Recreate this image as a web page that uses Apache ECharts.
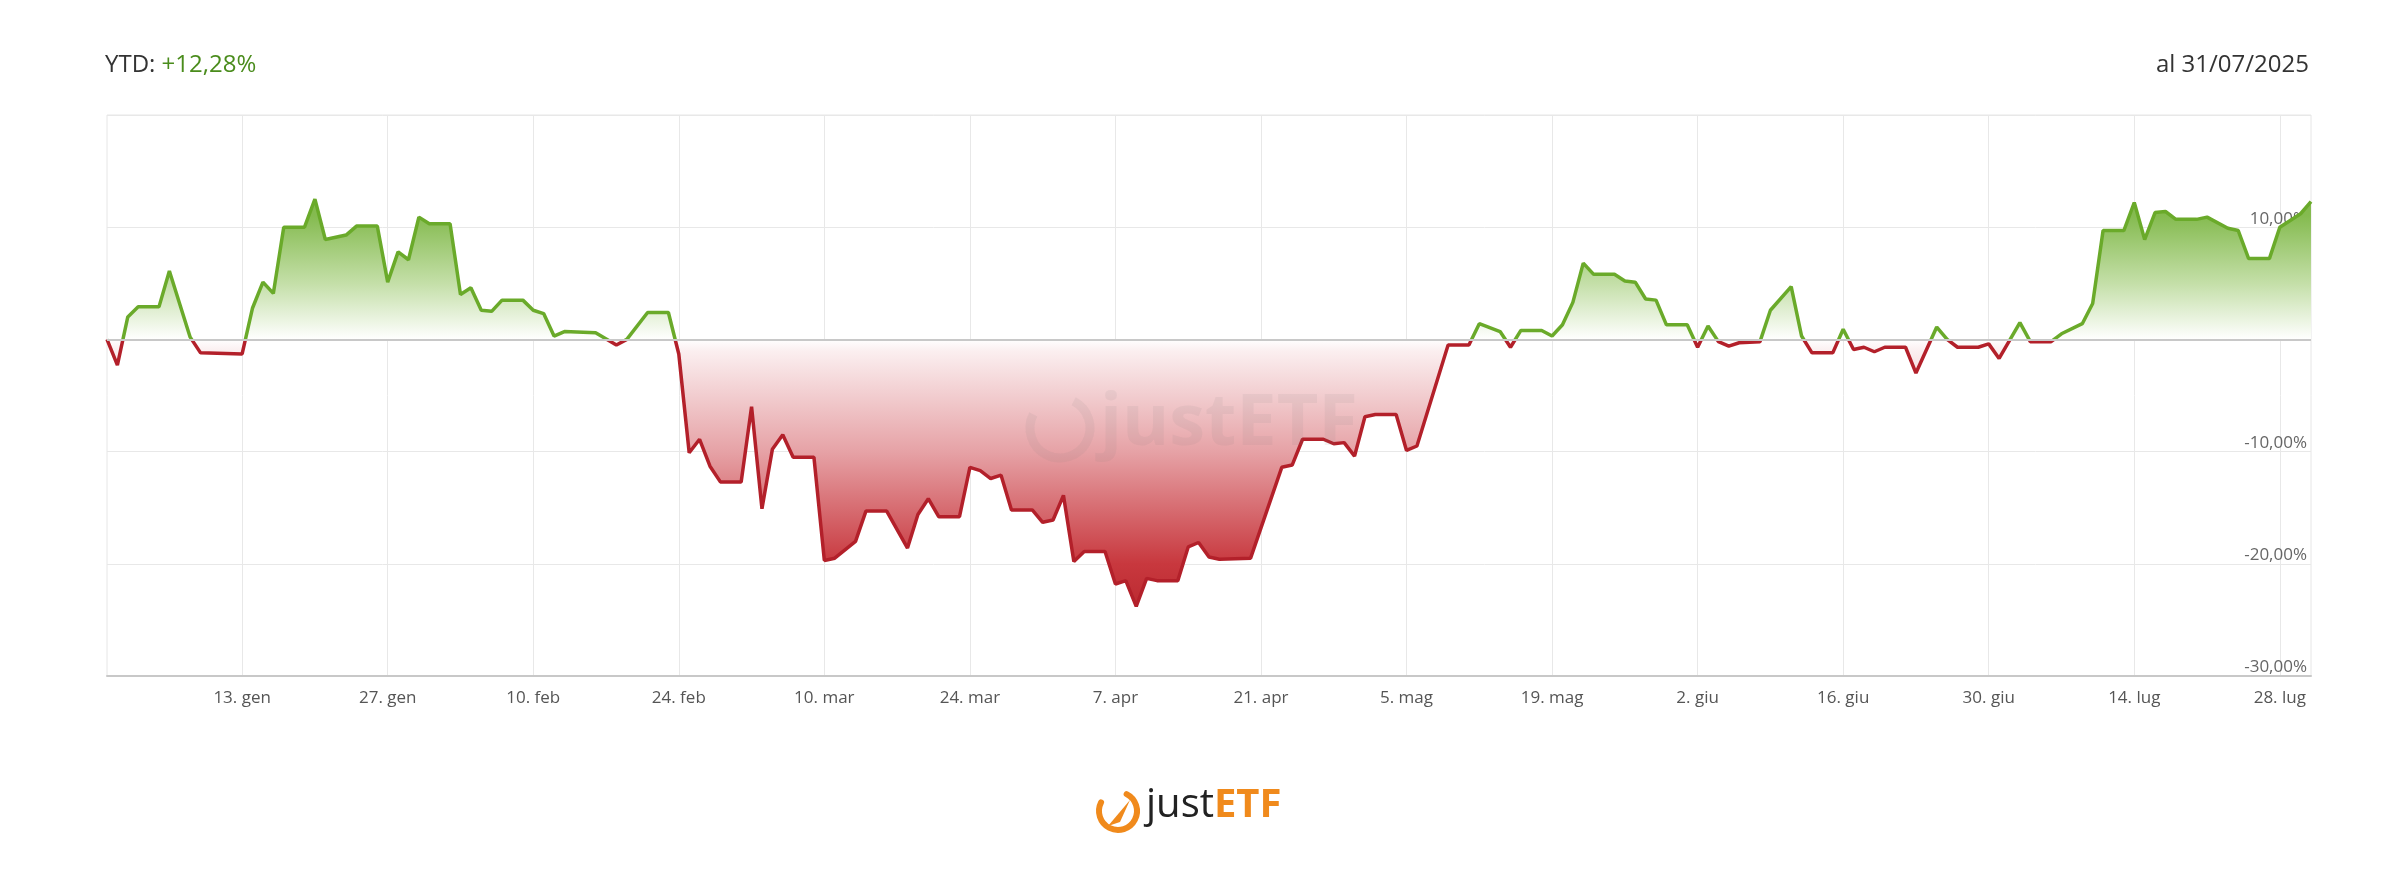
<!DOCTYPE html>
<html>
<head>
<meta charset="utf-8">
<script src="https://cdn.jsdelivr.net/npm/echarts@6/dist/echarts.min.js"></script>
<style>
	html, body { margin: 0; padding: 0; background: #fff; }
	#chart { width: 2400px; height: 875px; }
</style>
</head>
<body>
<div id="chart"></div>
<script>
// performance YTD in %
var dates = [
	'2024-12-31','2025-01-01','2025-01-02','2025-01-03','2025-01-05','2025-01-06','2025-01-08','2025-01-09','2025-01-13','2025-01-14',
	'2025-01-15','2025-01-16','2025-01-17','2025-01-19','2025-01-20','2025-01-21','2025-01-23','2025-01-24','2025-01-26','2025-01-27',
	'2025-01-28','2025-01-29','2025-01-30','2025-01-31','2025-02-02','2025-02-03','2025-02-04','2025-02-05','2025-02-06','2025-02-07',
	'2025-02-09','2025-02-10','2025-02-11','2025-02-12','2025-02-13','2025-02-16','2025-02-18','2025-02-19','2025-02-21','2025-02-23',
	'2025-02-24','2025-02-25','2025-02-26','2025-02-27','2025-02-28','2025-03-02','2025-03-03','2025-03-04','2025-03-05','2025-03-06',
	'2025-03-07','2025-03-09','2025-03-10','2025-03-11','2025-03-13','2025-03-14','2025-03-16','2025-03-18','2025-03-19','2025-03-20',
	'2025-03-21','2025-03-23','2025-03-24','2025-03-25','2025-03-26','2025-03-27','2025-03-28','2025-03-30','2025-03-31','2025-04-01',
	'2025-04-02','2025-04-03','2025-04-04','2025-04-06','2025-04-07','2025-04-08','2025-04-09','2025-04-10','2025-04-11','2025-04-13',
	'2025-04-14','2025-04-15','2025-04-16','2025-04-17','2025-04-20','2025-04-23','2025-04-24','2025-04-25','2025-04-27','2025-04-28',
	'2025-04-29','2025-04-30','2025-05-01','2025-05-02','2025-05-04','2025-05-05','2025-05-06','2025-05-09','2025-05-11','2025-05-12',
	'2025-05-14','2025-05-15','2025-05-16','2025-05-18','2025-05-19','2025-05-20','2025-05-21','2025-05-22','2025-05-23','2025-05-25',
	'2025-05-26','2025-05-27','2025-05-28','2025-05-29','2025-05-30','2025-06-01','2025-06-02','2025-06-03','2025-06-04','2025-06-05',
	'2025-06-06','2025-06-08','2025-06-09','2025-06-11','2025-06-12','2025-06-13','2025-06-15','2025-06-16','2025-06-17','2025-06-18',
	'2025-06-19','2025-06-20','2025-06-22','2025-06-23','2025-06-25','2025-06-26','2025-06-27','2025-06-29','2025-06-30','2025-07-01',
	'2025-07-03','2025-07-04','2025-07-06','2025-07-07','2025-07-09','2025-07-10','2025-07-11','2025-07-13','2025-07-14','2025-07-15',
	'2025-07-16','2025-07-17','2025-07-18','2025-07-20','2025-07-21','2025-07-23','2025-07-24','2025-07-25','2025-07-27','2025-07-28',
	'2025-07-30','2025-07-31'
];
var values = [
	0, -2.3, 2.0, 2.9, 2.9, 6.1, 0.2, -1.2, -1.3, 2.8,
	5.1, 4.1, 10.0, 10.0, 12.5, 8.9, 9.3, 10.1, 10.1, 5.1,
	7.8, 7.1, 10.9, 10.3, 10.3, 4.0, 4.6, 2.6, 2.5, 3.5,
	3.5, 2.6, 2.3, 0.3, 0.7, 0.6, -0.5, 0, 2.4, 2.4,
	-1.3, -10.1, -8.9, -11.3, -12.7, -12.7, -6.0, -15.1, -9.8, -8.5,
	-10.5, -10.5, -19.7, -19.5, -18.0, -15.3, -15.3, -18.6, -15.6, -14.2,
	-15.8, -15.8, -11.4, -11.7, -12.4, -12.1, -15.2, -15.2, -16.3, -16.1,
	-13.9, -19.8, -18.9, -18.9, -21.8, -21.5, -23.8, -21.3, -21.5, -21.5,
	-18.5, -18.1, -19.4, -19.6, -19.5, -11.4, -11.2, -8.9, -8.9, -9.3,
	-9.2, -10.4, -6.9, -6.7, -6.7, -9.9, -9.5, -0.5, -0.5, 1.4,
	0.7, -0.7, 0.8, 0.8, 0.3, 1.3, 3.3, 6.8, 5.8, 5.8,
	5.2, 5.1, 3.6, 3.5, 1.3, 1.3, -0.7, 1.2, -0.2, -0.6,
	-0.3, -0.2, 2.6, 4.7, 0.3, -1.2, -1.2, 0.9, -0.9, -0.7,
	-1.1, -0.7, -0.7, -3.0, 1.1, 0, -0.7, -0.7, -0.4, -1.7,
	1.5, -0.2, -0.2, 0.5, 1.4, 3.2, 9.7, 9.7, 12.2, 8.9,
	11.3, 11.4, 10.7, 10.7, 10.9, 9.9, 9.7, 7.2, 7.2, 10.0,
	11.2, 12.28
];
var tickDates = ['2025-01-13','2025-01-27','2025-02-10','2025-02-24','2025-03-10','2025-03-24','2025-04-07',
	'2025-04-21','2025-05-05','2025-05-19','2025-06-02','2025-06-16','2025-06-30','2025-07-14','2025-07-28'];
var monthNames = ['gen','feb','mar','apr','mag','giu','lug','ago','set','ott','nov','dic'];
var ytdText = '+12,28%';
var asOfText = 'al 31/07/2025';

var GREEN = '#6aaa2a';
var RED = '#b3202a';
var gridTop = 115, gridBottom = 199, gridLeft = 107, gridRight = 89;

function ts(d) { return +new Date(d + 'T00:00:00Z'); }

var seriesData = dates.map(function (d, i) { return [ts(d), values[i]]; });
var tickValues = tickDates.map(ts);

var chart = echarts.init(document.getElementById('chart'));

var option = {
	animation: false,
	backgroundColor: '#fff',
	textStyle: { fontFamily: 'Open Sans, sans-serif' },
	grid: {
		left: gridLeft, right: gridRight, top: gridTop, bottom: gridBottom,
		show: true, borderColor: '#e6e6e6', borderWidth: 1
	},
	title: [
		{
			text: '{a|YTD: }{b|' + ytdText + '}',
			left: 100, top: 48,
			textStyle: {
				rich: {
					a: { fontSize: 24, color: '#333', fontWeight: 'normal', fontFamily: 'Open Sans' },
					b: { fontSize: 24, color: '#4a8c1c', fontWeight: 'normal', fontFamily: 'Open Sans' }
				}
			}
		},
		{
			text: asOfText,
			right: 86, top: 48,
			textStyle: { fontSize: 24, color: '#333', fontWeight: 'normal', fontFamily: 'Open Sans' }
		}
	],
	visualMap: {
		type: 'piecewise',
		show: false,
		seriesIndex: 1,
		dimension: 1,
		pieces: [
			{ gt: 0, lte: 100, color: GREEN },
			{ gte: -100, lte: 0, color: RED }
		]
	},
	xAxis: {
		type: 'value',
		min: ts('2024-12-31'),
		max: ts('2025-07-31'),
		axisLine: { show: true, onZero: false, lineStyle: { color: '#c8c8c8', width: 2 } },
		axisTick: { show: false },
		splitLine: { show: false },
		axisLabel: {
			customValues: tickValues,
			color: '#555',
			fontSize: 17,
			margin: 14,
			formatter: function (v) {
				var d = new Date(v);
				return d.getUTCDate() + '. ' + monthNames[d.getUTCMonth()];
			}
		}
	},
	yAxis: {
		type: 'value',
		position: 'right',
		min: -30, max: 20, interval: 10,
		axisLine: { show: false },
		axisTick: { show: false },
		splitLine: { lineStyle: { color: '#e8e8e8', width: 1 } },
		axisLabel: {
			inside: true,
			margin: 4,
			color: '#666',
			fontSize: 17,
			verticalAlign: 'bottom',
			formatter: function (v) {
				if (v === 20) return '';
				return v.toFixed(2).replace('.', ',') + '%';
			}
		}
	},
	graphic: [
		{
			type: 'arc', silent: true, z: 100,
			shape: { cx: 1060, cy: 428, r: 30, startAngle: -Math.PI * 0.35, endAngle: Math.PI * 1.15 },
			style: { stroke: 'rgba(120,120,120,0.09)', lineWidth: 9, fill: null }
		},
		{
			type: 'text', silent: true, z: 100, x: 1100, y: 388,
			style: { text: 'justETF', fontSize: 72, fontWeight: 'bold', fill: 'rgba(120,120,120,0.09)', fontFamily: 'Open Sans' }
		},
		{
			type: 'arc', silent: true,
			shape: { cx: 1118, cy: 811, r: 19, startAngle: -Math.PI * 0.35, endAngle: Math.PI * 1.15 },
			style: { stroke: '#f08a1c', lineWidth: 6, fill: null, lineCap: 'round' }
		},
		{
			type: 'polygon', silent: true,
			shape: { points: [[1108, 826], [1130, 800], [1120, 822]] },
			style: { fill: '#f08a1c' }
		},
		{
			type: 'text', left: 1146, top: 786, silent: true,
			style: {
				text: '{j|just}{e|ETF}',
				rich: {
					j: { fontSize: 40, fill: '#222', fontFamily: 'Open Sans' },
					e: { fontSize: 40, fill: '#f08a1c', fontWeight: 'bold', fontFamily: 'Open Sans' }
				}
			}
		}
	],
	series: [
		{
			// vertical grid lines under the area
			type: 'line',
			data: [],
			z: 0,
			markLine: {
				z: 0,
				silent: true,
				symbol: 'none',
				label: { show: false },
				lineStyle: { color: '#e8e8e8', width: 1, type: 'solid' },
				data: tickValues.map(function (t) { return { xAxis: t }; })
			}
		},
		{
			type: 'line',
			data: seriesData,
			z: 3,
			showSymbol: false,
			lineStyle: { width: 3.5 },
			areaStyle: {
				origin: 0,
				opacity: 1,
				color: new echarts.graphic.LinearGradient(0, gridTop, 0, 875 - gridBottom, [
					{ offset: 0, color: '#6aa82e' },
					{ offset: 0.18, color: '#85bb50' },
					{ offset: 0.3, color: '#c4dfa8' },
					{ offset: 0.4, color: '#ffffff' },
					{ offset: 0.42, color: '#fbeff0' },
					{ offset: 0.6, color: '#e6a2a6' },
					{ offset: 0.8, color: '#c8383e' },
					{ offset: 1, color: '#a8141c' }
				], true)
			},
			markLine: {
				silent: true,
				symbol: 'none',
				label: { show: false },
				data: [{ yAxis: 0, lineStyle: { color: '#c8c8c8', width: 2, type: 'solid' } }]
			}
		}
	]
};

chart.setOption(option);
</script>
</body>
</html>
